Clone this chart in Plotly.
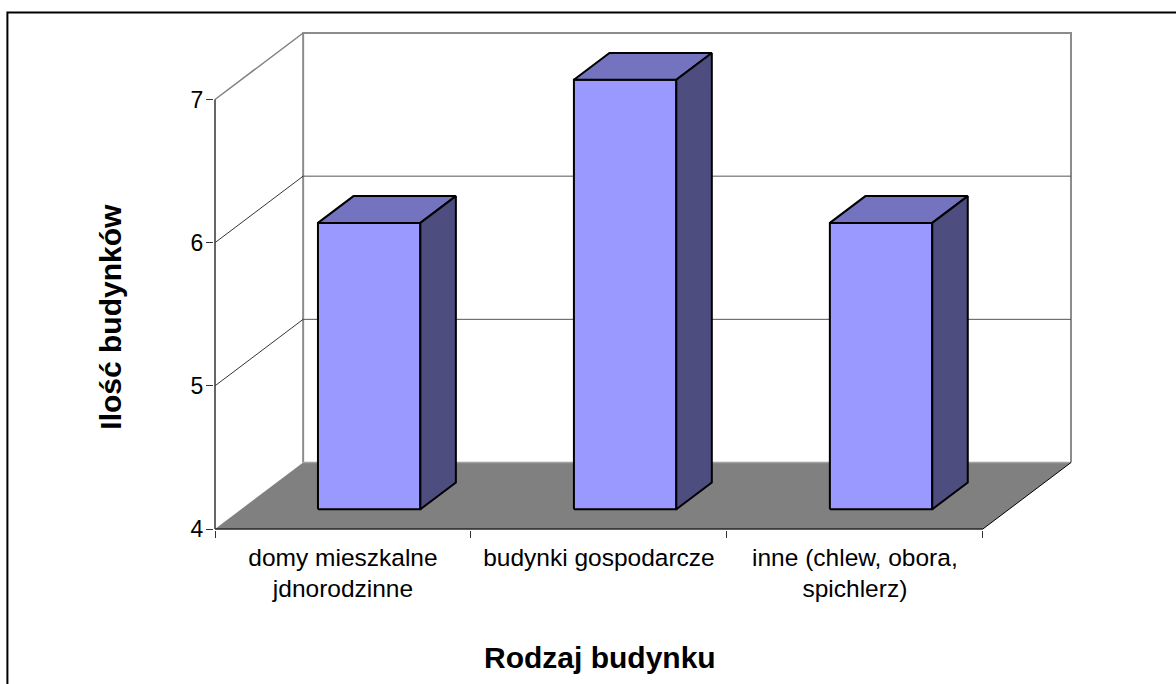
import plotly.graph_objects as go

categories = ["domy mieszkalne<br>jdnorodzinne", "budynki gospodarcze", "inne (chlew, obora,<br>spichlerz)"]
values = [6, 7, 6]
y_ticks = [4, 5, 6, 7]
x_title = "Rodzaj budynku"
y_title = "Ilość budynków"

W, H = 1176, 684
L, R, T, B = 215.0, 1070.0, 33.0, 529.5
PAD = 1.0
Y_MIN = 4
X_SLOT = (982.5 - L) / 3
Y_UNIT = 143.2
DX = (R + 0.6 - 982.5) / X_SLOT      # depth of the chart box in x units
DY = (B - 463.0) / Y_UNIT      # depth of the chart box in y units
N = len(categories)
X_MAX = (R - L) / X_SLOT
Y_MAX = y_ticks[-1] + DY
BAR_W = 0.4
D_FRONT, D_BACK = 0.297, 0.70


def proj(x, v, d):
    return x + d * DX, v + d * DY


fig = go.Figure()


def poly(points, fill=None, color="black", width=1.0):
    xs = [proj(*p)[0] for p in points]
    ys = [proj(*p)[1] for p in points]
    fig.add_trace(go.Scatter(
        x=xs, y=ys, mode="lines", hoverinfo="skip", showlegend=False,
        fill="toself" if fill else None, fillcolor=fill,
        line=dict(color=color, width=width) if width else dict(width=0),
    ))


top = y_ticks[-1]
# floor
poly([(0, Y_MIN, 0), (N, Y_MIN, 0), (N, Y_MIN, 1), (0, Y_MIN, 1), (0, Y_MIN, 0)], fill="#808080", width=0)
# walls
poly([(0, Y_MIN, 1), (0, top, 1), (N, top, 1), (N, Y_MIN, 1)], color="#8c8c8c", width=2)
poly([(0, Y_MIN, 1), (N, Y_MIN, 1)], color="#a0a0a0", width=1.5)
poly([(0, top, 0), (0, top, 1)], color="#808080", width=1.5)
# grid lines: side wall + back wall
for v in y_ticks[1:-1]:
    poly([(0, v, 0), (0, v, 1)], color="#000000", width=0.8)
    poly([(0, v, 1), (N, v, 1)], color="#555555", width=1)
# floor edge on the right and front axis
poly([(N, Y_MIN, 0), (N, Y_MIN, 1)], color="#000000", width=1)
poly([(0, Y_MIN, 0), (N, Y_MIN, 0)], color="#262626", width=1.6)
poly([(0, Y_MIN, 0), (0, top, 0)], color="#404040", width=1.6)

# bars
for i, v in enumerate(values):
    a, b = i + 0.5 - BAR_W / 2, i + 0.5 + BAR_W / 2
    poly([(a, Y_MIN, D_FRONT), (b, Y_MIN, D_FRONT), (b, v, D_FRONT), (a, v, D_FRONT), (a, Y_MIN, D_FRONT)],
         fill="#9999FF", width=2)
    poly([(a, v, D_FRONT), (b, v, D_FRONT), (b, v, D_BACK), (a, v, D_BACK), (a, v, D_FRONT)],
         fill="#7373BF", width=2)
    poly([(b, Y_MIN, D_FRONT), (b, Y_MIN, D_BACK), (b, v, D_BACK), (b, v, D_FRONT), (b, Y_MIN, D_FRONT)],
         fill="#4D4D80", width=2)

font = "Liberation Sans, Arial, sans-serif"
PL, PR, PT, PB = L - PAD, R + 0.6 + PAD, T - PAD, B + PAD
fig.update_layout(
    width=W, height=H, autosize=False,
    margin=dict(l=PL, r=W - PR, t=PT, b=H - PB, pad=0),
    paper_bgcolor="white", plot_bgcolor="white",
    font=dict(family=font, color="#000000"),
    showlegend=False,
    xaxis=dict(
        range=[-PAD / X_SLOT, N + DX + PAD / X_SLOT], showgrid=False, zeroline=False, showline=False,
        tickmode="array", tickvals=[i + 0.5 for i in range(N)], ticktext=categories,
        ticks="", tickangle=0, ticklabelstandoff=10, tickfont=dict(size=24.5, family=font),
        minor=dict(tickmode="array", tickvals=list(range(N + 1)), ticks="outside", ticklen=7,
                   tickwidth=1, tickcolor="#333333", showgrid=False),
    ),
    yaxis=dict(
        range=[Y_MIN - PAD / Y_UNIT, Y_MAX + PAD / Y_UNIT], showgrid=False, zeroline=False, showline=False,
        tickmode="array", tickvals=y_ticks, ticks="outside", ticklen=7, tickwidth=1,
        tickcolor="#333333", tickfont=dict(size=23, family=font), ticklabelstandoff=-2,
    ),
    annotations=[
        dict(text=f"<b>{x_title}</b>", xref="paper", yref="paper",
             x=(600 - PL) / (PR - PL), y=(PB - 658) / (PB - PT), showarrow=False,
             xanchor="center", yanchor="middle", font=dict(size=30, family=font)),
        dict(text=f"<b>{y_title}</b>", xref="paper", yref="paper",
             x=(111 - PL) / (PR - PL), y=(PB - 317) / (PB - PT), showarrow=False, textangle=-90,
             xanchor="center", yanchor="middle", font=dict(size=30, family=font)),
    ],
    shapes=[
        dict(type="path", xref="paper", yref="paper", layer="above",
             path=f"M {(7.5 - PL) / (PR - PL)} {(PB - H - 5) / (PB - PT)} L {(7.5 - PL) / (PR - PL)} {(PB - 12.5) / (PB - PT)} "
                  f"L {(W + 5 - PL) / (PR - PL)} {(PB - 12.5) / (PB - PT)}",
             line=dict(color="#000000", width=2)),
    ],
)

fig.write_html("out.html", config={"displayModeBar": False},
               post_script="document.body.style.margin='0';document.documentElement.style.overflow='hidden';")
